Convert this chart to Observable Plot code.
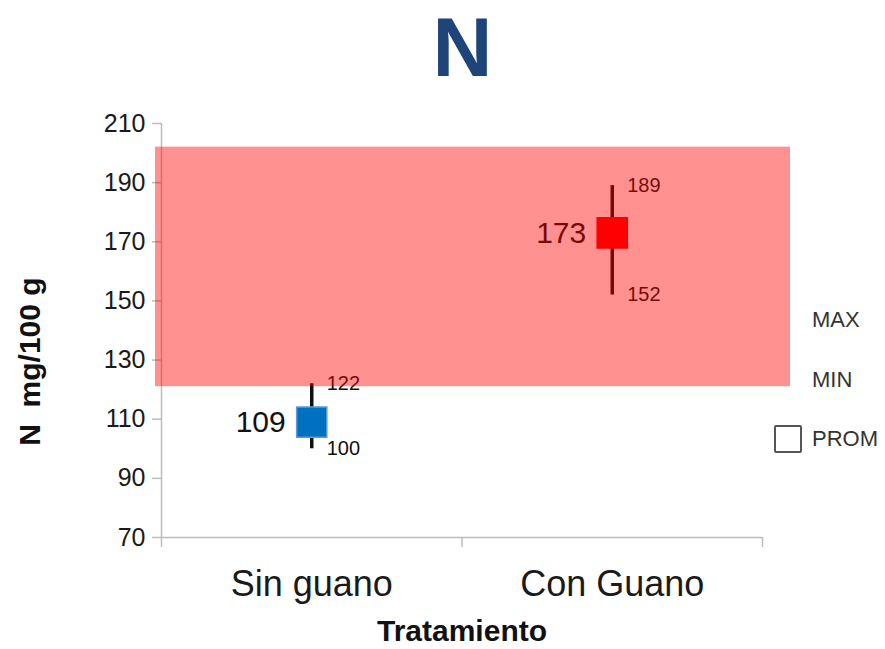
<!DOCTYPE html>
<html>
<head>
<meta charset="utf-8">
<script src="https://cdn.jsdelivr.net/npm/d3@7"></script>
<script src="https://cdn.jsdelivr.net/npm/@observablehq/plot@0.6"></script>
<style>
  body { margin: 0; background: #fff; font-family: "Liberation Sans", Arial, sans-serif; }
  #wrap { position: relative; width: 885px; height: 649px; overflow: hidden; }
  #title { height: 100px; text-align: center; font-family: "Liberation Sans", Arial, sans-serif; font-weight: bold; font-size: 83px; line-height: 96px; color: #1f447a; padding-left: 40px; box-sizing: border-box; }
  .leg { position: absolute; font-size: 22px; color: #333; line-height: 1; }
  .box { position: absolute; width: 24px; height: 24px; border: 2px solid #555; border-radius: 2px; background: #fff; }
</style>
</head>
<body>
<div id="wrap">
  <div id="title">N</div>
  <div id="chart"></div>
  <div class="leg" style="left:812px; top:309px;">MAX</div>
  <div class="leg" style="left:812px; top:369px;">MIN</div>
  <div class="box" style="left:774px; top:425px;"></div>
  <div class="leg" style="left:812px; top:428px;">PROM</div>
</div>
<script>
const categories = ["Sin guano", "Con Guano"];
const promedio = [109, 173];
const minimo = [100, 152];
const maximo = [122, 189];
const colores = ["#0070c0", "#ff0000"];
const bordes = ["#5b9bd5", "#ff0000"];
const rango = { min: 121, max: 202 };
const yTicks = [70, 90, 110, 130, 150, 170, 190, 210];

const data = categories.map((c, i) => ({
  cat: c, xc: i + 0.5, avg: promedio[i], min: minimo[i], max: maximo[i], color: colores[i], border: bordes[i]
}));

const font = '"Liberation Sans", Arial, sans-serif';

const chart = Plot.plot({
  width: 885,
  height: 549,
  marginTop: 23,
  marginBottom: 112,
  marginLeft: 155,
  marginRight: 95,
  style: { fontFamily: font, background: "transparent", overflow: "visible" },
  x: { type: "linear", domain: [0, 2], range: [161, 762], axis: null },
  y: { domain: [70, 210], axis: null },
  marks: [
    // axes lines
    Plot.ruleY([70], { x1: 0, x2: 2, stroke: "#bdbdbd", strokeWidth: 1.5 }),
    Plot.ruleX([0], { y1: 70, y2: 210, stroke: "#bdbdbd", strokeWidth: 1.5 }),
    Plot.axisY({ ticks: yTicks, tickSize: 9, tickPadding: 7, dx: 6, stroke: "#bdbdbd", strokeWidth: 1.5, fontSize: 25, fill: "#1a1a1a", label: null, tickFormat: d => d }),
    Plot.axisX({ ticks: [0, 1, 2], tickSize: 10, stroke: "#bdbdbd", strokeWidth: 1.5, tickFormat: () => "", label: null }),
    Plot.axisX({ ticks: [0.5, 1.5], tickSize: 0, tickPadding: 33, fontSize: 36, fill: "#1a1a1a", tickFormat: d => categories[Math.floor(d)], label: null }),
    // whiskers
    Plot.ruleX(data, { x: "xc", y1: "min", y2: "max", stroke: "#111", strokeWidth: 3.5 }),
    // average squares
    Plot.dot(data, { x: "xc", y: "avg", symbol: "square", r: 17, fill: "color", stroke: "border", strokeWidth: 1.5 }),
    // labels
    Plot.text(data, { x: "xc", y: "avg", text: "avg", textAnchor: "end", dx: -26, fontSize: 30, fill: "#111" }),
    Plot.text(data, { x: "xc", y: "max", text: "max", textAnchor: "start", dx: 15, fontSize: 20, fill: "#111" }),
    Plot.text(data, { x: "xc", y: "min", text: "min", textAnchor: "start", dx: 15, fontSize: 20, fill: "#111" }),
    // titles
    Plot.text(["Tratamiento"], { x: () => 1, frameAnchor: "bottom", dy: 103, fontSize: 30, fontWeight: "bold", fill: "#111" }),
    Plot.text([129.5], { y: d => d, text: () => "N\u00a0 mg/100 g", frameAnchor: "left", textAnchor: "middle", dx: -125, rotate: -90, fontSize: 30, fontWeight: "bold", fill: "#111" }),
    // red reference range overlay
    Plot.rect([rango], { y1: "min", y2: "max", fill: "#ff0000", fillOpacity: 0.43 })
  ]
});
document.getElementById("chart").appendChild(chart);
</script>
</body>
</html>
